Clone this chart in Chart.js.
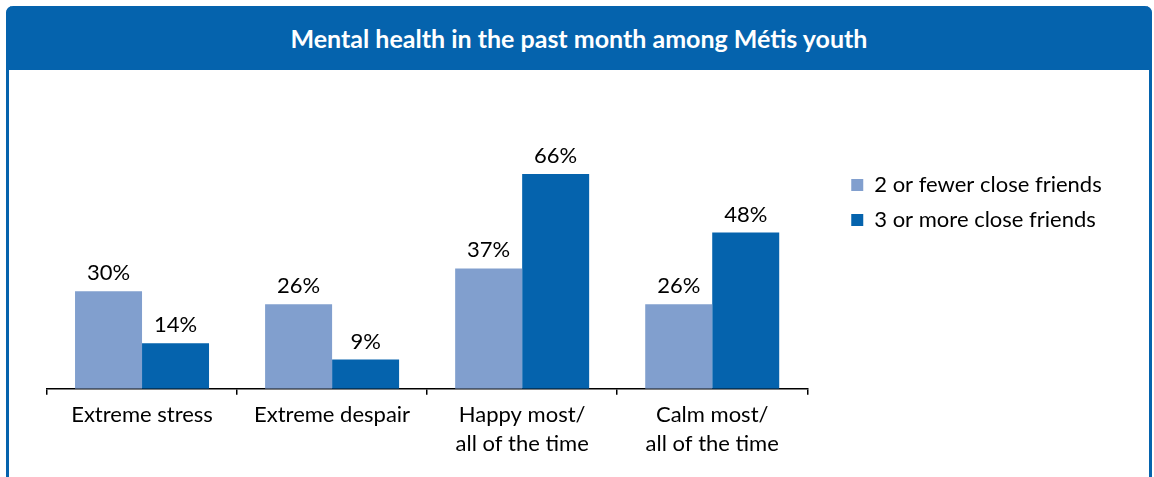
<!DOCTYPE html>
<html>
<head>
<meta charset="utf-8">
<script src="https://cdn.jsdelivr.net/npm/chart.js@4/dist/chart.umd.min.js"></script>
<style>
  html, body { margin: 0; padding: 0; background: #fff; }
  body { width: 1154px; height: 477px; position: relative; overflow: hidden; font-family: Lato, "Open Sans", sans-serif; }
  #frame {
    position: absolute; left: 6px; top: 6px; width: 1140px; height: 480px;
    border: 3px solid #0563ad; border-top: none; border-radius: 7px 7px 0 0;
    box-sizing: content-box;
  }
  #titleBar {
    position: absolute; left: 6px; top: 6px; width: 1146px; height: 64px;
    background: #0563ad; border-radius: 7px 7px 0 0;
    color: #fff; font-weight: bold; font-size: 25px;
    display: flex; align-items: center; justify-content: center;
  }
  #wrap { position: absolute; left: 0; top: 72px; width: 1102px; height: 392px; }
</style>
</head>
<body>
<div id="frame"></div>
<div id="titleBar">Mental health in the past month among Métis youth</div>
<div id="wrap"><canvas id="chart"></canvas></div>
<script>
// Ma'lumotlar
const categories = [
  'Extreme stress',
  'Extreme despair',
  ['Happy most/', 'all of the time'],
  ['Calm most/', 'all of the time']
];
const seriesNames = ['2 or fewer close friends', '3 or more close friends'];
const fewFriends = [30, 26, 37, 26];
const manyFriends = [14, 9, 66, 48];

const LIGHT = '#819fce';
const DARK = '#0563ad';
const FONT = 'Lato, "Open Sans", sans-serif';

// Bar ustidagi foiz yozuvlari
const valueLabels = {
  id: 'valueLabels',
  afterDatasetsDraw(chart) {
    const ctx = chart.ctx;
    ctx.save();
    ctx.font = '22px ' + FONT;
    ctx.fillStyle = '#000';
    ctx.textAlign = 'center';
    ctx.textBaseline = 'bottom';
    chart.data.datasets.forEach((ds, i) => {
      chart.getDatasetMeta(i).data.forEach((bar, j) => {
        ctx.fillText(ds.data[j] + '%', bar.x, bar.y - 7);
      });
    });
    ctx.restore();
  }
};

new Chart(document.getElementById('chart'), {
  type: 'bar',
  data: {
    labels: categories,
    datasets: [
      { label: seriesNames[0], data: fewFriends, backgroundColor: LIGHT, borderWidth: 0 },
      { label: seriesNames[1], data: manyFriends, backgroundColor: DARK, borderWidth: 0 }
    ]
  },
  options: {
    responsive: true,
    maintainAspectRatio: false,
    animation: false,
    layout: { padding: { left: 47, top: 89, right: 0, bottom: 0 } },
    datasets: { bar: { categoryPercentage: 0.705, barPercentage: 1 } },
    scales: {
      x: {
        grid: { display: true, drawOnChartArea: false, offset: true, color: '#000', tickLength: 6, lineWidth: 1.5 },
        border: { display: true, color: '#000', width: 1.5 },
        ticks: { color: '#000', font: { family: FONT, size: 22, lineHeight: 1.3 }, padding: 6, maxRotation: 0 }
      },
      // ko'rinmas y o'qi: grafik va legend orasidagi bo'shliq
      y: {
        position: 'right', min: 0, max: 70,
        ticks: { display: false }, grid: { display: false }, border: { display: false },
        afterFit(scale) { scale.width = 31; }
      }
    },
    plugins: {
      legend: {
        position: 'right',
        align: 'start',
        labels: { boxWidth: 12, boxHeight: 12, padding: 13, color: '#000', font: { family: FONT, size: 22 } }
      },
      tooltip: { enabled: false }
    }
  },
  plugins: [valueLabels]
});
</script>
</body>
</html>
